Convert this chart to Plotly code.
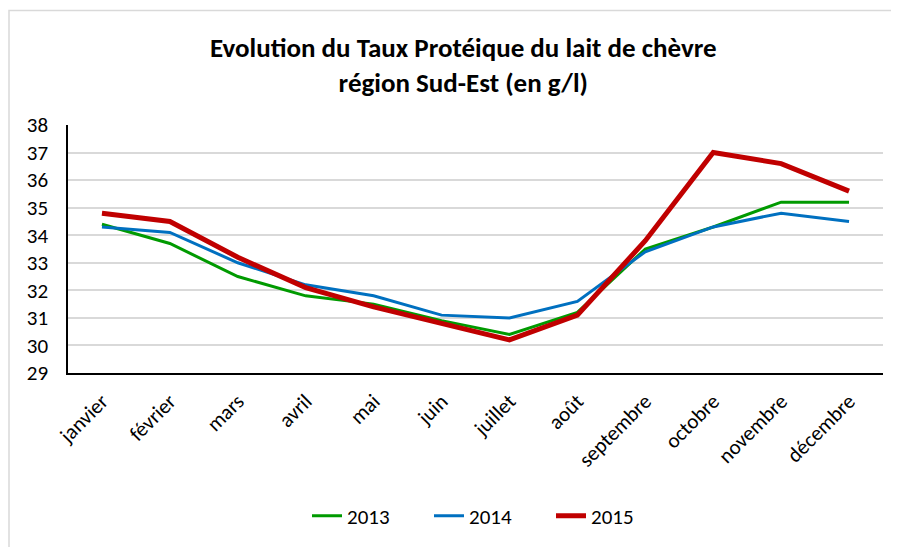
import plotly.graph_objects as go

mois = ["janvier", "février", "mars", "avril", "mai", "juin", "juillet",
        "août", "septembre", "octobre", "novembre", "décembre"]
tp_2013 = [34.4, 33.7, 32.5, 31.8, 31.5, 30.9, 30.4, 31.2, 33.5, 34.3, 35.2, 35.2]
tp_2014 = [34.3, 34.1, 33.0, 32.2, 31.8, 31.1, 31.0, 31.6, 33.4, 34.3, 34.8, 34.5]
tp_2015 = [34.8, 34.5, 33.2, 32.1, 31.4, 30.8, 30.2, 31.1, 33.8, 37.0, 36.6, 35.6]
y_ticks = list(range(29, 39))

FONT = "Carlito, Calibri, 'Liberation Sans Narrow', 'DejaVu Sans Condensed', sans-serif"

W, H = 891, 539
L, R, T, B = 60, 16, 117, 173
PW, PH = W - L - R, H - T - B

fig = go.Figure()
fig.add_trace(go.Scatter(x=mois, y=tp_2013, mode="lines", name="2013",
                         line=dict(color="#009A00", width=3)))
fig.add_trace(go.Scatter(x=mois, y=tp_2014, mode="lines", name="2014",
                         line=dict(color="#0070C0", width=3)))
fig.add_trace(go.Scatter(x=mois, y=tp_2015, mode="lines", name="2015",
                         line=dict(color="#C00000", width=5)))

fig.update_layout(
    width=W, height=H,
    margin=dict(l=L, r=R, t=T, b=B),
    paper_bgcolor="white", plot_bgcolor="white",
    font=dict(family=FONT, size=20, color="#000000"),
    title=dict(text="<b>Evolution du Taux Protéique du lait de chèvre<br>région Sud-Est (en g/l)</b>",
               x=0.511, xanchor="center", xref="container",
               y=1 - 49 / H, yanchor="top", yref="container",
               font=dict(family=FONT, size=27, color="#000000")),
    showlegend=True,
    legend=dict(orientation="h", x=(299 - L) / PW, xanchor="left",
                y=-(508 - (H - B)) / PH, yanchor="middle",
                entrywidth=77, entrywidthmode="pixels",
                font=dict(family=FONT, size=21), tracegroupgap=0),
    xaxis=dict(type="category", tickangle=-45, showgrid=False,
               showline=True, linecolor="#000000", linewidth=1.5,
               ticks="", range=[-0.5, 11.5], ticklabelstandoff=6,
               tickfont=dict(family=FONT, size=21)),
    yaxis=dict(range=[29, 38], tickvals=y_ticks, showgrid=True, gridcolor="#D9D9D9",
               gridwidth=1.5, showline=True, linecolor="#000000", linewidth=1.5,
               ticks="", zeroline=False, ticklabelstandoff=14,
               tickfont=dict(family=FONT, size=21)),
)

fig.add_shape(type="rect", xref="paper", yref="paper",
              x0=-(L - 1) / PW, x1=1 + (R - 1) / PW, y0=-(B + 5) / PH, y1=1 + (T - 2) / PH,
              line=dict(color="#D9D9D9", width=1.5), fillcolor="rgba(0,0,0,0)")

fig.write_html("out.html")
